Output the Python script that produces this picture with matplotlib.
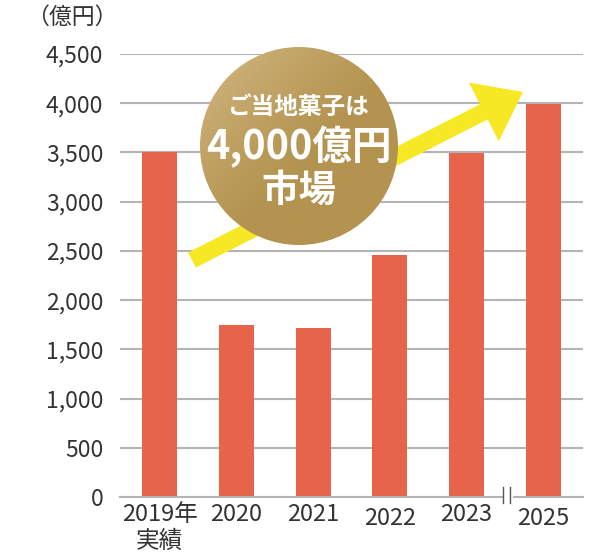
import numpy as np
import matplotlib
matplotlib.use("Agg")
import matplotlib.pyplot as plt
import matplotlib.transforms as mtransforms
from matplotlib.patches import Circle, FancyArrow

plt.rcParams['font.family'] = ['Noto Sans CJK JP', 'DejaVu Sans']

# データ
years = ["2019年\n実績", "2020", "2021", "2022", "2023", "2025"]
market = [3500, 1750, 1720, 2460, 3490, 3990]
yticks = [0, 500, 1000, 1500, 2000, 2500, 3000, 3500, 4000, 4500]
unit_label = "（億円）"
badge_lines = ["ご当地菓子は", "4,000億円", "市場"]

BAR_COLOR = "#e5644a"
GRID_COLOR = "#b4b4b4"
TEXT_COLOR = "#333333"

fig = plt.figure(figsize=(6.14, 5.58), dpi=100)
ax = fig.add_axes([120 / 614, 61 / 558, 463 / 614, 443 / 558])

x = np.arange(len(years))
ax.bar(x, market, width=0.46, color=BAR_COLOR, zorder=3)

ax.set_xlim(-0.52, 5.52)
ax.set_ylim(0, 4500)
ax.set_yticks(yticks)
ax.set_yticklabels([f"{v:,}" for v in yticks], fontsize=16.5, color=TEXT_COLOR)
ax.set_xticks(x)
ax.set_xticklabels(years, fontsize=17, color=TEXT_COLOR, linespacing=1.25)
ax.tick_params(axis="y", length=0, pad=12)
ax.tick_params(axis="x", length=0, pad=4)
for s in ax.spines.values():
    s.set_visible(False)

# 2022 と 2025 のラベルは少し下
shift = mtransforms.ScaledTranslation(0, -4 / 100, fig.dpi_scale_trans)
for i in [3, 5]:
    lab = ax.get_xticklabels()[i]
    lab.set_transform(lab.get_transform() + shift)

# 目盛線
for v in yticks[1:]:
    ax.axhline(v, color=GRID_COLOR, lw=1.5, zorder=1)
# 0 の線（省略記号つき）
ax.plot([-0.52, 4.46], [0, 0], color=GRID_COLOR, lw=1.5, zorder=4, clip_on=False)
ax.plot([4.62, 5.52], [0, 0], color=GRID_COLOR, lw=1.5, zorder=4, clip_on=False)
for bx in [4.47, 4.57]:
    ax.plot([bx, bx], [-65, 105], color="#555555", lw=1.0, zorder=5, clip_on=False)

fig.text(72 / 614, 1 - 17 / 558, unit_label, ha="center", va="center",
         fontsize=16.5, color=TEXT_COLOR)

# 装飾レイヤー（ピクセル座標）
ov = fig.add_axes([0, 0, 1, 1], zorder=10)
ov.set_xlim(0, 614)
ov.set_ylim(558, 0)
ov.axis("off")
ov.patch.set_alpha(0)

arrow = FancyArrow(192, 260, 331, -168, width=17, head_width=66, head_length=44,
                   length_includes_head=True, color="#f7e826", lw=0)
ov.add_patch(arrow)

cx, cy, r = 299, 146, 99
gy, gx = np.mgrid[0:1:200j, 0:1:200j]
t = np.clip((gx + gy) * 0.9, 0, 1) ** 0.7
c0 = np.array([0xda, 0xbf, 0x8d]) / 255
c1 = np.array([0xb3, 0x93, 0x4f]) / 255
img = c0[None, None, :] * (1 - t[..., None]) + c1[None, None, :] * t[..., None]
im = ov.imshow(img, extent=[cx - r, cx + r, cy + r, cy - r], zorder=2)
clip = Circle((cx, cy), r, transform=ov.transData, facecolor="none", edgecolor="none")
ov.add_patch(clip)
im.set_clip_path(clip)
ov.set_xlim(0, 614)
ov.set_ylim(558, 0)

ov.text(cx, 107, badge_lines[0], ha="center", va="center", color="white",
        fontsize=17, fontweight="bold", zorder=3)
ov.text(cx, 147, badge_lines[1], ha="center", va="center", color="white",
        fontsize=28.5, fontweight="bold", zorder=3)
ov.text(cx, 190, badge_lines[2], ha="center", va="center", color="white",
        fontsize=27, fontweight="bold", zorder=3)

fig.savefig("out.png", dpi=100)
